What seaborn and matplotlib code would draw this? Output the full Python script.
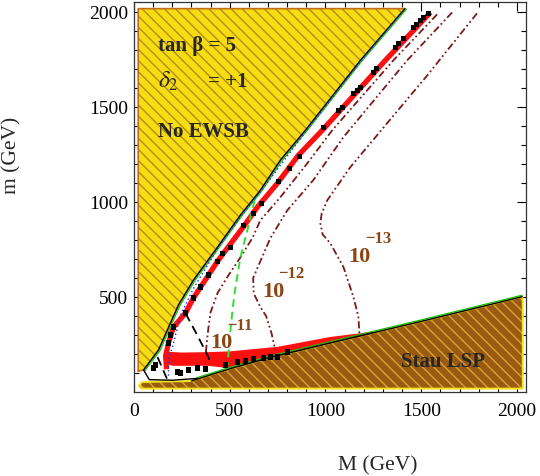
import matplotlib
matplotlib.use("Agg")
import matplotlib.pyplot as plt
from matplotlib.transforms import offset_copy
import seaborn as sns

# ---- data (M, m in GeV) ----
# No EWSB region: diagonal boundary, top -> bottom
ewsb_edge_M = [1415, 1182, 895, 764, 660, 556, 436, 310, 232, 128, 50]
ewsb_edge_m = [2020, 1747, 1379, 1221, 1063, 932, 763, 589, 458, 221, 116]
ewsb_corner_M = [22, 22]
ewsb_corner_m = [110, 2020]

# Stau LSP region: upper boundary, left -> right
stau_edge_M = [28, 40, 150, 300, 330, 500, 712, 1000, 1500, 2027]
stau_edge_m = [35, 52, 55, 58, 68, 122, 182, 252, 372, 502]
stau_corner_M = [2030, 2030, 40, 28]
stau_corner_m = [490, 18, 18, 28]

# white pocket outline at bottom left
pocket_M = [50, 80, 200, 310, 330]
pocket_m = [116, 65, 62, 70, 72]

# red band (allowed region) centre line
band_M = [1548, 1312, 983, 858, 749, 644, 571, 491, 436, 389, 310, 269, 206, 180, 165, 170]
band_m = [2000, 1747, 1379, 1247, 1100, 974, 870, 763, 689, 616, 495, 416, 342, 258, 190, 120]
# red blob and strip along the stau boundary
red_top_M = [165, 172, 250, 385, 500, 750, 1025, 1250]
red_top_m = [255, 212, 208, 210, 214, 238, 290, 318]
red_bot_M = [1250, 1000, 712, 500, 385, 200, 165]
red_bot_m = [309, 252, 182, 125, 138, 138, 150]

# black points
pts_M = [1536, 1510, 1495, 1474, 1458, 1406, 1380, 1364, 1265, 1250, 1182, 1166,
         1145, 1088, 1067, 989, 863, 811, 754, 665, 623, 571, 504, 462, 436, 389,
         347, 310, 269, 206, 190, 180, 112, 102, 227, 243, 284, 331, 373, 477, 540,
         582, 623, 676, 712, 749, 801]
pts_m = [1995, 1975, 1958, 1937, 1921, 1863, 1837, 1816, 1705, 1684, 1605, 1589,
         1574, 1500, 1484, 1395, 1242, 1179, 1111, 995, 942, 879, 763, 731, 689, 616,
         553, 495, 416, 342, 300, 258, 142, 126, 105, 100, 116, 126, 121, 142, 158,
         163, 174, 179, 184, 184, 211]

# blue dotted line
blue_M = [1400, 1182, 895, 660, 556, 436, 310, 243, 201, 180, 180]
blue_m = [2005, 1740, 1370, 1055, 925, 755, 545, 405, 237, 168, 79]

# contours (dash-dot-dot)
c11_M = [1583, 1354, 1035, 905, 764, 660, 618, 556, 490, 436, 400, 389, 380, 375]
c11_m = [1990, 1747, 1379, 1205, 1026, 905, 811, 710, 610, 521, 420, 342, 260, 205]
c12_M = [1661, 1426, 1093, 936, 801, 712, 660, 622, 625, 660, 690, 718, 738]
c12_m = [2000, 1747, 1342, 1116, 958, 811, 690, 600, 520, 447, 400, 310, 221]
c13_M = [1791, 1531, 1129, 1009, 980, 973, 985, 1025, 1094, 1146, 1172, 1177]
c13_m = [1995, 1668, 1184, 1010, 940, 890, 830, 784, 658, 500, 395, 305]

# green dashed line
green_M = [630, 608, 592, 556, 530, 515, 504, 495, 488]
green_m = [1010, 921, 853, 711, 553, 440, 326, 220, 140]

# black dashed lines
bdash1_M = [269, 330, 389, 398]
bdash1_m = [415, 300, 184, 150]
bdash2_M = [123, 175]
bdash2_m = [184, 63]

xticks = [0, 500, 1000, 1500, 2000]
yticks = [500, 1000, 1500, 2000]

# ---- style ----
sns.set_theme(style="ticks")
plt.rcParams["font.family"] = ["Liberation Serif", "DejaVu Serif"]
plt.rcParams["mathtext.fontset"] = "stix"
plt.rcParams["hatch.linewidth"] = 1.0

fig = plt.figure(figsize=(5.4, 4.76), dpi=100)
ax = fig.add_axes([134 / 540, 1 - 392 / 476, 392 / 540, 390 / 476])

yellow = "#F7DC14"
maroon = "#7B1A1A"
lblbrown = "#8B4513"

# No EWSB region
ex = ewsb_corner_M + ewsb_edge_M
ey = ewsb_corner_m + ewsb_edge_m
ax.fill(ex, ey, facecolor=yellow, edgecolor="#B0900C", hatch="\\\\\\", lw=0, zorder=1)
ax.plot(ex + [ex[0]], ey + [ey[0]], color="#C0701A", lw=1.2, zorder=1.5)

# Stau LSP region
sx = stau_edge_M + stau_corner_M
sy = stau_edge_m + stau_corner_m
ax.fill(sx, sy, facecolor="#9A5A10", edgecolor="#D8A436", hatch="\\\\\\", lw=0, zorder=1)
ax.plot(sx + [sx[0]], sy + [sy[0]], color="#F2E21A", lw=1.4, zorder=1.5)

# red region
ax.fill(red_top_M + red_bot_M, red_top_m + red_bot_m, color="#FF1010", lw=0, zorder=2)
sns.lineplot(x=band_M, y=band_m, sort=False, estimator=None, color="#FF1010",
             lw=3.8, solid_capstyle="butt", ax=ax, zorder=2)

# boundaries
green_tr = offset_copy(ax.transData, fig=fig, x=1.5, y=-0.5, units="dots")
ax.plot(ewsb_edge_M, ewsb_edge_m, color="#10C010", lw=0.9, transform=green_tr, zorder=2.5)
ax.plot(ewsb_edge_M, ewsb_edge_m, color="black", lw=0.9, zorder=3)
green_tr2 = offset_copy(ax.transData, fig=fig, x=0, y=1.5, units="dots")
ax.plot(stau_edge_M[4:], stau_edge_m[4:], color="#10C010", lw=0.9, transform=green_tr2, zorder=2.5)
ax.plot(stau_edge_M[3:], stau_edge_m[3:], color="black", lw=1.0, zorder=3)
ax.plot(pocket_M, pocket_m, color="black", lw=1.0, zorder=3)

sns.lineplot(x=blue_M, y=blue_m, sort=False, estimator=None, color="#1030FF",
             lw=1.0, ls=(0, (1, 2)), ax=ax, zorder=3)

# contours
ddd = (0, (4, 1.6, 1, 1.6, 1, 1.6))
for cx, cy in [(c11_M, c11_m), (c12_M, c12_m), (c13_M, c13_m)]:
    sns.lineplot(x=cx, y=cy, sort=False, estimator=None, color=maroon,
                 lw=1.3, ls=ddd, ax=ax, zorder=3)

sns.lineplot(x=green_M, y=green_m, sort=False, estimator=None, color="#30E030",
             lw=1.4, ls=(0, (4, 2.5)), ax=ax, zorder=3)
for bx, by in [(bdash1_M, bdash1_m), (bdash2_M, bdash2_m)]:
    sns.lineplot(x=bx, y=by, sort=False, estimator=None, color="black",
                 lw=1.3, ls=(0, (5, 3)), ax=ax, zorder=3)

sns.scatterplot(x=pts_M, y=pts_m, marker="s", s=14, color="black",
                edgecolor="none", ax=ax, zorder=4)

# texts
bold = dict(fontsize=15, fontweight="bold", ha="left", va="baseline", zorder=5)
ax.text(123, 1796, "tan β = 5", **bold)
ax.text(123, 1606, r"$\delta_2$", fontsize=17, ha="left", va="baseline", zorder=5)
ax.text(384, 1606, "= +1", **bold)
ax.text(123, 1342, "No EWSB", **bold)
ax.text(1392, 132, "Stau LSP", **bold)

lab = dict(fontweight="bold", color=lblbrown, ha="left", va="baseline", zorder=5)
ax.text(400, 232, "10", fontsize=16, **lab)
ax.text(488, 327, "\u221211", fontsize=12, **lab)
ax.text(671, 502, "10", fontsize=16, **lab)
ax.text(755, 602, "\u221212", fontsize=12, **lab)
ax.text(1120, 687, "10", fontsize=16, **lab)
ax.text(1209, 787, "\u221213", fontsize=12, **lab)

# axes
ax.set_xlim(0, 2047)
ax.set_ylim(0, 2055)
ax.set_xticks(xticks)
ax.set_yticks(yticks)
ax.set_xticks(range(100, 2001, 100), minor=True)
ax.set_yticks(range(100, 2001, 100), minor=True)
ax.tick_params(which="both", direction="in", top=True, right=True,
               labelsize=14, width=0.8, colors="black")
ax.tick_params(which="major", length=6.5)
ax.tick_params(which="minor", length=3.5)
ax.tick_params(axis="x", pad=8)
ax.tick_params(axis="y", pad=4)
for sp in ax.spines.values():
    sp.set_linewidth(0.9)
    sp.set_color("#333333")

fig.text(378 / 540, 1 - 470 / 476, "M (GeV)", fontsize=15.5, ha="center", va="baseline")
fig.text(12 / 540, 1 - 155 / 476, "m (GeV)", fontsize=15.5, ha="center", va="center",
         rotation=90)

fig.savefig("out.png", dpi=100)
